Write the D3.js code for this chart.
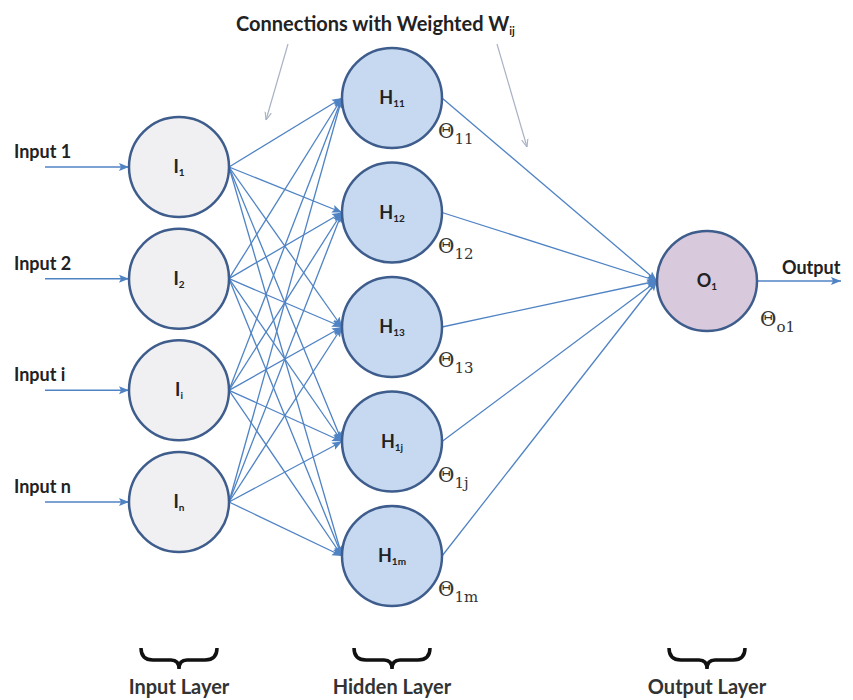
<!DOCTYPE html>
<html>
<head>
<meta charset="utf-8">
<script src="https://cdn.jsdelivr.net/npm/d3@7"></script>
<style>
  body { margin: 0; background: #fff; }
  text { font-family: Lato, "Open Sans", sans-serif; }
</style>
</head>
<body>
<script>
// network content
const inputNames = ["Input 1", "Input 2", "Input i", "Input n"];
const inputSubs = ["1", "2", "i", "n"];
const hiddenSubs = ["11", "12", "13", "1j", "1m"];
const hiddenThetas = ["11", "12", "13", "1j", "1m"];
const outputSubs = ["1"];
const outputTheta = "o1";
const layerNames = ["Input Layer", "Hidden Layer", "Output Layer"];
const layers = ["input", "hidden", "output"];

const w = 853, h = 700, r = 50;

const svg = d3.select("body").append("svg")
    .attr("width", w).attr("height", h);

// layout scales
const layerX = d3.scaleOrdinal().domain(layers).range([179, 392, 707]);
const inputY = d3.scalePoint().domain(inputSubs).range([167, 502]);
const hiddenY = d3.scalePoint().domain(hiddenSubs).range([98, 556]);
const outputY = d3.scalePoint().domain(outputSubs).range([281, 281]).padding(0.5);

const edgeColor = "#4f83c4";
const ringColor = "#3e5d8c";

// arrow markers
const defs = svg.append("defs");
defs.append("marker").attr("id", "head")
    .attr("viewBox", "0 0 10 10").attr("refX", 10).attr("refY", 5)
    .attr("markerWidth", 10).attr("markerHeight", 10)
    .attr("markerUnits", "userSpaceOnUse").attr("orient", "auto")
    .append("path").attr("d", "M0,1 L10,5 L0,9 L2,5 Z").attr("fill", edgeColor);
defs.append("marker").attr("id", "grey")
    .attr("viewBox", "0 0 10 10").attr("refX", 10).attr("refY", 5)
    .attr("markerWidth", 8).attr("markerHeight", 8)
    .attr("markerUnits", "userSpaceOnUse").attr("orient", "auto")
    .append("path").attr("d", "M0,1 L10,5 L0,9").attr("fill", "none")
    .attr("stroke", "#a9b3c4").attr("stroke-width", 1.4);

// edges input -> hidden
const ih = [];
inputSubs.forEach(a => hiddenSubs.forEach(b => ih.push([a, b])));
svg.append("g").selectAll("line").data(ih).enter().append("line")
    .attr("x1", layerX("input") + r).attr("y1", d => inputY(d[0]))
    .attr("x2", layerX("hidden") - r).attr("y2", d => hiddenY(d[1]))
    .attr("stroke", edgeColor).attr("stroke-width", 1.3)
    .attr("marker-end", "url(#head)");

// edges hidden -> output
svg.append("g").selectAll("line").data(hiddenSubs).enter().append("line")
    .attr("x1", layerX("hidden") + r).attr("y1", d => hiddenY(d))
    .attr("x2", layerX("output") - r).attr("y2", outputY("1"))
    .attr("stroke", edgeColor).attr("stroke-width", 1.3)
    .attr("marker-end", "url(#head)");

// input arrows
svg.append("g").selectAll("line").data(inputSubs).enter().append("line")
    .attr("x1", 45).attr("y1", d => inputY(d))
    .attr("x2", layerX("input") - r).attr("y2", d => inputY(d))
    .attr("stroke", edgeColor).attr("stroke-width", 1.5)
    .attr("marker-end", "url(#head)");

svg.append("g").selectAll("text").data(inputNames).enter().append("text")
    .attr("x", 14).attr("y", (d, i) => inputY(inputSubs[i]) - 9)
    .attr("font-size", 18).attr("font-weight", "bold").attr("fill", "#222")
    .text(d => d);

// output arrow
svg.append("line")
    .attr("x1", layerX("output") + r).attr("y1", outputY("1"))
    .attr("x2", 841).attr("y2", outputY("1"))
    .attr("stroke", edgeColor).attr("stroke-width", 1.5)
    .attr("marker-end", "url(#head)");
svg.append("text").attr("x", 782).attr("y", outputY("1") - 7)
    .attr("font-size", 18).attr("font-weight", "bold").attr("fill", "#222")
    .text("Output");

// nodes
function drawNodes(subs, yScale, layer, letter, fill) {
    const g = svg.append("g").selectAll("g").data(subs).enter().append("g")
        .attr("transform", d => `translate(${layerX(layer)},${yScale(d)})`);
    g.append("circle").attr("r", r)
        .attr("fill", fill).attr("stroke", ringColor).attr("stroke-width", 2.5);
    const t = g.append("text").attr("text-anchor", "middle").attr("y", 6)
        .attr("font-weight", "bold").attr("fill", "#222");
    t.append("tspan").attr("font-size", 18).text(letter);
    t.append("tspan").attr("font-size", 10).attr("dy", 3).text(d => d);
}
drawNodes(inputSubs, inputY, "input", "I", "#f0f0f2");
drawNodes(hiddenSubs, hiddenY, "hidden", "H", "#c6d9f1");
drawNodes(outputSubs, outputY, "output", "O", "#d9c9dd");

// theta labels
function theta(x, y, sub) {
    const t = svg.append("text").attr("x", x).attr("y", y)
        .attr("fill", "#333").style("font-family", "'DejaVu Serif', 'Liberation Serif', serif");
    t.append("tspan").attr("font-size", 20).text("Θ");
    t.append("tspan").attr("font-size", 15).attr("dy", 6).text(sub);
}
hiddenSubs.forEach((d, i) => theta(layerX("hidden") + 46, hiddenY(d) + 40, hiddenThetas[i]));
theta(layerX("output") + 53, outputY("1") + 45, outputTheta);

// title and pointers
svg.append("text").attr("x", 236).attr("y", 31)
    .attr("font-size", 20).attr("font-weight", "bold").attr("fill", "#222")
    .call(t => {
        t.append("tspan").text("Connections with Weighted W");
        t.append("tspan").attr("font-size", 11).attr("dy", 4).text("ij");
    });
svg.append("line").attr("x1", 288).attr("y1", 44).attr("x2", 266).attr("y2", 120)
    .attr("stroke", "#a9b3c4").attr("stroke-width", 1.2).attr("marker-end", "url(#grey)");
svg.append("line").attr("x1", 497).attr("y1", 44).attr("x2", 527).attr("y2", 147)
    .attr("stroke", "#a9b3c4").attr("stroke-width", 1.2).attr("marker-end", "url(#grey)");

// braces and layer names
function brace(cx) {
    const x0 = cx - 38, x1 = cx + 38, y0 = 648, ym = 660, y1 = 669;
    return `M${x0},${y0} Q${x0},${ym} ${x0 + 12},${ym} L${cx - 8},${ym} Q${cx},${ym} ${cx},${y1}` +
        ` Q${cx},${ym} ${cx + 8},${ym} L${x1 - 12},${ym} Q${x1},${ym} ${x1},${y0}`;
}
svg.append("g").selectAll("path").data(layers).enter().append("path")
    .attr("d", d => brace(layerX(d)))
    .attr("fill", "none").attr("stroke", "#111").attr("stroke-width", 3.5);
svg.append("g").selectAll("text").data(layerNames).enter().append("text")
    .attr("x", (d, i) => layerX(layers[i])).attr("y", 694)
    .attr("text-anchor", "middle").attr("font-size", 20).attr("font-weight", "bold")
    .attr("fill", "#333").text(d => d);
</script>
</body>
</html>
